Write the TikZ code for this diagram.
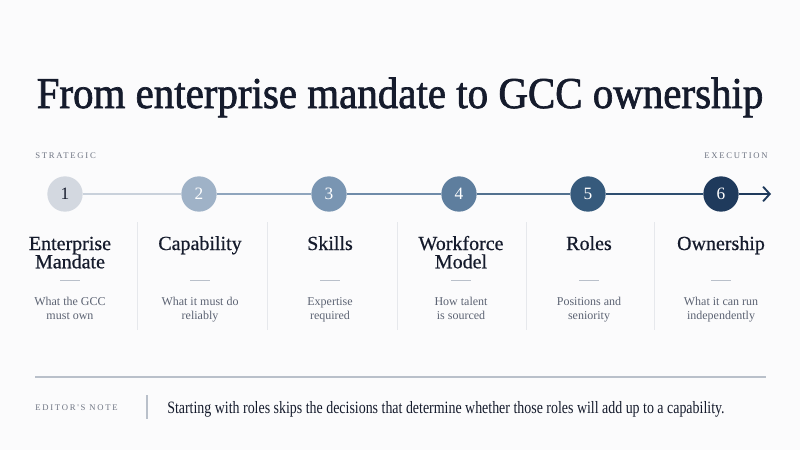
\documentclass[tikz,border=0pt]{standalone}
\usepackage{fontspec}
\usepackage{graphicx}
\setmainfont{Liberation Serif}
\newfontfamily\capsfont[LetterSpace=20]{Liberation Serif}
\newfontfamily\titlefont[FakeBold=1.6]{Liberation Serif}
\newfontfamily\headfont[FakeBold=0.6]{Liberation Serif}
\usetikzlibrary{arrows.meta}

\definecolor{paper}{HTML}{FBFBFC}
\definecolor{ink}{HTML}{151B2C}
\definecolor{muted}{HTML}{5C6373}
\definecolor{tagc}{HTML}{6E7482}
\definecolor{hair}{HTML}{E6E8EC}
\definecolor{rulec}{HTML}{B9C0CA}
\definecolor{stepA}{HTML}{D3D8E0}
\definecolor{stepB}{HTML}{9FB2C7}
\definecolor{stepC}{HTML}{7995B2}
\definecolor{stepD}{HTML}{5E7E9E}
\definecolor{stepE}{HTML}{365A7C}
\definecolor{stepF}{HTML}{1F3A5C}
\definecolor{lineA}{HTML}{C9D1DB}
\definecolor{lineB}{HTML}{8FA5BD}
\definecolor{lineC}{HTML}{6F8BA9}
\definecolor{lineD}{HTML}{52718F}
\definecolor{lineE}{HTML}{2E4E70}

\tikzset{
  stepdot/.style={circle, minimum size=26.5pt, inner sep=0pt, text=white,
    font=\fontsize{13}{13}\selectfont},
  steplink/.style={line width=1.4pt},
  colhead/.style={anchor=base, align=center, inner sep=0pt, text=ink,
    font=\headfont\fontsize{15}{13.7}\selectfont},
  coldesc/.style={anchor=base, align=center, inner sep=0pt, text=muted,
    font=\fontsize{9}{10}\selectfont},
  tagtext/.style={inner sep=0pt, text=tagc, font=\capsfont\fontsize{6.5}{6.5}\selectfont},
  colrule/.style={draw=hair, line width=0.6pt},
  shortdash/.style={draw=rulec, line width=0.8pt}
}

\begin{document}
\begin{tikzpicture}[x=0.75pt,y=0.75pt,yscale=-1,xscale=1]
\useasboundingbox (0,0) rectangle (800,450);
\fill[paper] (0,0) rectangle (800,450);

% Title
\node[anchor=base, inner sep=0pt, text=ink] (title) at (400,108)
  {\resizebox{545pt}{\height}{\titlefont\fontsize{33}{33}\selectfont From enterprise mandate to GCC ownership}};

% Scale ends
\node[tagtext, anchor=base west] (strat) at (35,158.5) {STRATEGIC};
\node[tagtext, anchor=base east] (exec) at (768,158.5) {EXECUTION};

% Steps
\node[stepdot, fill=stepA, text=ink] (s1) at (65,194) {1};
\node[stepdot, fill=stepB] (s2) at (199,194) {2};
\node[stepdot, fill=stepC] (s3) at (329,194) {3};
\node[stepdot, fill=stepD] (s4) at (459,194) {4};
\node[stepdot, fill=stepE] (s5) at (588,194) {5};
\node[stepdot, fill=stepF] (s6) at (721,194) {6};
\coordinate (tip) at (771,194);

\draw[steplink, lineA] (s1) -- (s2);
\draw[steplink, lineB] (s2) -- (s3);
\draw[steplink, lineC] (s3) -- (s4);
\draw[steplink, lineD] (s4) -- (s5);
\draw[steplink, lineE] (s5) -- (s6);
\draw[steplink, stepF, -{Straight Barb[length=5pt, width=11pt, line width=1.4pt]}] (s6) -- (tip);

% Column rules
\foreach \x in {137,267,397,526,654}
  \draw[colrule] (\x,222) -- (\x,330);

% Columns (base = last line)
\node[colhead] (h1) at (70,268.3) {Enterprise\\Mandate};
\node[colhead] (h2) at (200,250) {Capability};
\node[colhead] (h3) at (330,250) {Skills};
\node[colhead] (h4) at (461,268.3) {Workforce\\Model};
\node[colhead] (h5) at (589,250) {Roles};
\node[colhead] (h6) at (721,250) {Ownership};

\foreach \x in {70,200,330,461,589,721}
  \draw[shortdash] (\x-10,280.5) -- (\x+10,280.5);

\node[coldesc] (d1) at (70,319) {What the GCC\\must own};
\node[coldesc] (d2) at (200,319) {What it must do\\reliably};
\node[coldesc] (d3) at (330,319) {Expertise\\required};
\node[coldesc] (d4) at (461,319) {How talent\\is sourced};
\node[coldesc] (d5) at (589,319) {Positions and\\seniority};
\node[coldesc] (d6) at (721,319) {What it can run\\independently};

% Editor's note
\draw[draw=rulec, line width=0.8pt] (35,377) -- (766,377);
\node[tagtext, anchor=base west] (tag) at (35,410.5) {EDITOR'S NOTE};
\draw[draw=rulec, line width=0.8pt] (147,395) -- (147,419);
\node[anchor=base west, inner sep=0pt, text=ink] (note) at (167,413.3)
  {\resizebox{418pt}{\height}{\fontsize{13}{13}\selectfont Starting with roles skips the decisions that determine whether those roles will add up to a capability.}};
\end{tikzpicture}
\end{document}
